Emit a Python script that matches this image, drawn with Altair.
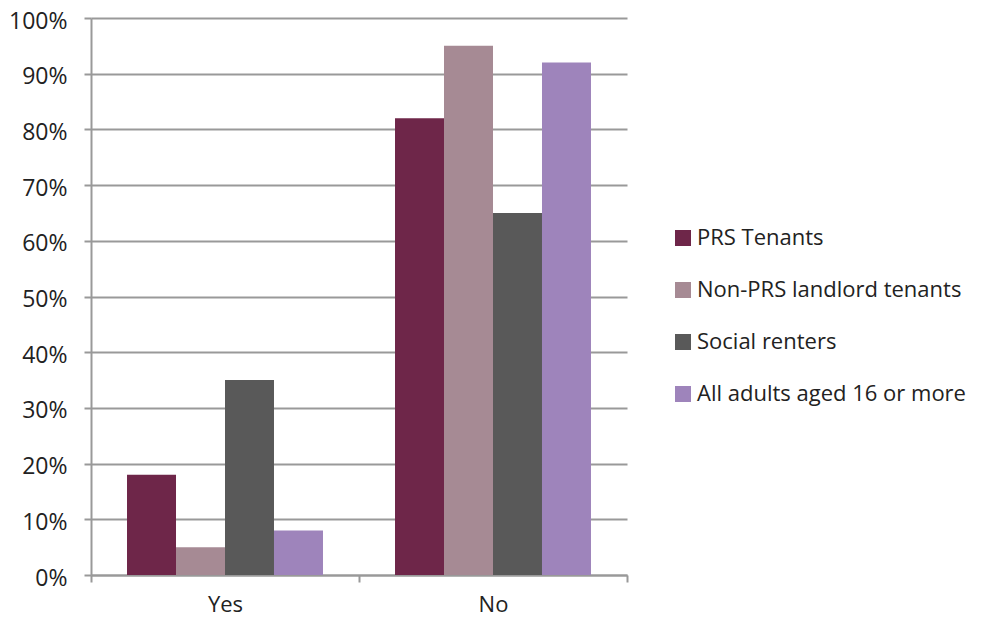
import altair as alt
import pandas as pd

answers = ["Yes", "No"]
groups = ["PRS Tenants", "Non-PRS landlord tenants", "Social renters", "All adults aged 16 or more"]
yes_values = [18, 5, 35, 8]
no_values = [82, 95, 65, 92]
colors = ["#6E2649", "#A68A94", "#595959", "#9E84BB"]

rows = []
for a, vals in zip(answers, [yes_values, no_values]):
    for g, v in zip(groups, vals):
        rows.append({"answer": a, "group": g, "value": v / 100})
df = pd.DataFrame(rows)

font = "Open Sans"

chart = alt.Chart(df).mark_bar().encode(
    x=alt.X("answer:N", sort=answers, title=None,
            scale=alt.Scale(paddingInner=0, paddingOuter=0),
            axis=alt.Axis(labelAngle=0, tickBand="extent", domainColor="#999999",
                          domainWidth=2, tickColor="#999999", tickWidth=2, tickSize=7,
                          labelFontSize=22, labelFont=font, labelColor="#222222",
                          labelPadding=12)),
    xOffset=alt.XOffset("group:N", sort=groups,
                        scale=alt.Scale(paddingInner=0, paddingOuter=0.735)),
    y=alt.Y("value:Q", title=None,
            scale=alt.Scale(domain=[0, 1]),
            axis=alt.Axis(format="%", values=[i / 10 for i in range(11)],
                          gridColor="#999999", gridWidth=2, domainColor="#999999",
                          domainWidth=2, tickColor="#999999", tickWidth=2, tickSize=7,
                          labelFontSize=23, labelFont=font, labelColor="#222222",
                          labelPadding=17, labelOffset=3)),
    color=alt.Color("group:N", sort=groups,
                    scale=alt.Scale(domain=groups, range=colors),
                    legend=alt.Legend(title=None, orient="none", legendX=581, legendY=209,
                                      symbolType="square", symbolSize=256,
                                      symbolStrokeWidth=0, labelFontSize=22,
                                      labelFont=font, labelColor="#222222", labelLimit=0,
                                      rowPadding=30, labelOffset=3, padding=0)),
).properties(
    width=536, height=557,
    autosize=alt.AutoSizeParams(type="none"),
    padding={"left": 83, "top": 10, "right": 348, "bottom": 46},
).configure_view(stroke=None)

chart.save("out.html", embed_options={"renderer": "svg", "actions": False})
